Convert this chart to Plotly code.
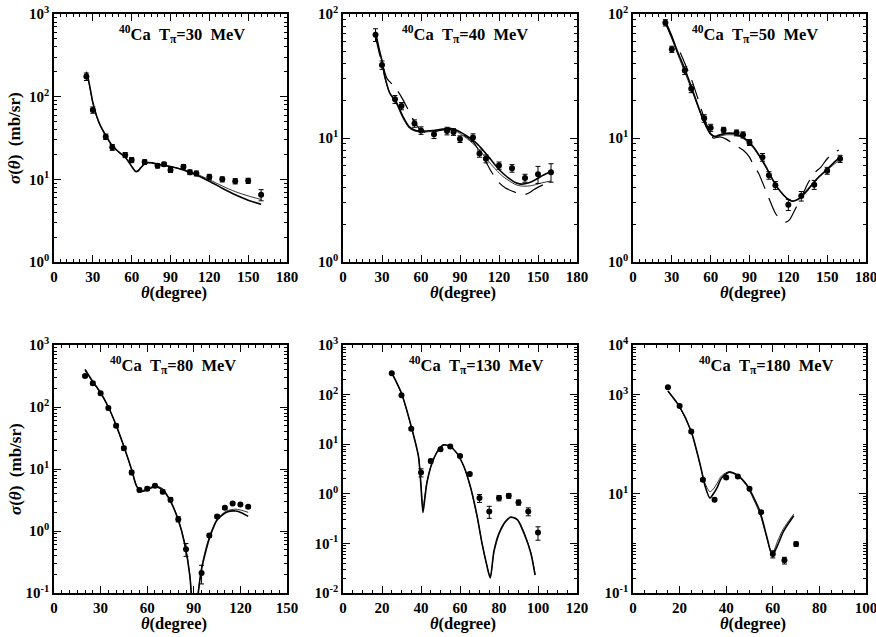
import math
import plotly.graph_objects as go

FONT = "Liberation Serif"

# ---- measured cross sections (deg, mb/sr) ----
ang_30 = [25, 30, 40, 45, 55, 60, 70, 80, 85, 90, 100, 105, 110, 120, 130, 140, 150, 160]
sig_30 = [175, 69, 32.8, 24.4, 19.7, 17.1, 16.2, 14.6, 15.2, 13.0, 14.2, 12.2, 11.8, 10.7, 10.0, 9.5, 9.6, 6.5]
err_30 = [18, 6, 2.5, 2.0, 1.4, 1.2, 1.0, 0.9, 0.9, 0.9, 0.9, 0.8, 0.8, 0.8, 0.7, 0.7, 0.7, 1.0]

ang_40 = [25, 30, 40, 45, 55, 60, 70, 80, 85, 90, 100, 105, 110, 120, 130, 140, 150, 160]
sig_40 = [68, 38.8, 20.5, 18.1, 13.1, 11.5, 10.7, 11.4, 11.2, 9.8, 10.1, 7.5, 6.8, 6.0, 5.7, 4.75, 5.1, 5.3]
err_40 = [8, 3, 1.5, 1.2, 0.9, 0.8, 0.8, 0.8, 0.7, 0.6, 0.7, 0.5, 0.5, 0.4, 0.4, 0.35, 0.8, 0.9]

ang_50 = [25, 30, 40, 45, 55, 60, 70, 80, 85, 90, 100, 105, 110, 120, 130, 140, 150, 160]
sig_50 = [85, 52, 35, 25, 14.4, 12.1, 11.6, 11.0, 10.6, 9.2, 7.0, 5.0, 4.15, 2.9, 3.4, 4.2, 5.45, 6.8]
err_50 = [5, 3, 2.5, 1.8, 1.0, 0.8, 0.6, 0.6, 0.6, 0.5, 0.5, 0.35, 0.3, 0.3, 0.3, 0.35, 0.35, 0.45]

ang_80 = [20, 25, 30, 35, 40, 45, 50, 55, 60, 65, 70, 75, 80, 85, 95, 100, 105, 110, 115, 120, 125]
sig_80 = [316, 241, 166, 96, 50, 21.7, 8.8, 4.6, 4.8, 5.35, 4.3, 3.2, 1.55, 0.51, 0.21, 0.85, 1.72, 2.37, 2.78, 2.68, 2.46]
err_80 = [15, 15, 10, 6, 3, 1.5, 0.7, 0.3, 0.3, 0.3, 0.3, 0.25, 0.15, 0.12, 0.07, 0.06, 0.1, 0.12, 0.12, 0.12, 0.12]

ang_130 = [25, 30, 35, 40, 45, 50, 55, 60, 65, 70, 75, 80, 85, 90, 95, 100]
sig_130 = [269, 97, 20.4, 2.69, 4.6, 7.9, 9.0, 5.8, 2.5, 0.82, 0.44, 0.82, 0.91, 0.67, 0.44, 0.166]
err_130 = [12, 5, 1.2, 0.5, 0.4, 0.5, 0.5, 0.35, 0.2, 0.15, 0.12, 0.1, 0.1, 0.08, 0.08, 0.05]

ang_180 = [15, 20, 25, 30, 35, 40, 45, 50, 55, 60, 65, 70]
sig_180 = [1400, 592, 180, 19.1, 7.6, 21.3, 22.3, 12.6, 4.27, 0.61, 0.455, 0.97]
err_180 = [60, 30, 10, 1.2, 0.6, 1.2, 1.2, 0.8, 0.3, 0.1, 0.07, 0.1]

# ---- model curves ----
th_30 = [25, 27, 30, 33, 36, 40, 45, 50, 55, 58, 61, 63, 65, 67, 70, 73, 76, 80, 90, 100, 110, 120, 130, 140, 150, 160]
fa_30 = [200, 150, 85, 58, 44, 34, 25.5, 21.5, 18.5, 16.0, 13.6, 12.4, 12.6, 13.8, 15.4, 16.0, 15.8, 15.3, 14.3, 13.0, 11.3, 9.5, 7.8, 6.5, 5.6, 5.0]
fb_30 = [195, 146, 84, 57, 43.5, 33.5, 25, 21.2, 18.3, 16.0, 13.8, 12.6, 12.8, 13.9, 15.3, 15.8, 15.6, 15.2, 14.3, 13.1, 11.6, 9.9, 8.3, 7.1, 6.3, 5.7]

th_40 = [25, 28, 30, 32, 36, 41, 46, 51, 56, 64, 72, 77, 82, 87, 92, 97, 103, 108, 113, 118, 123, 128, 133, 137, 143, 148, 153, 160]
fa_40 = [72, 51, 42, 32, 23, 19.5, 15, 12.3, 11.5, 11.4, 11.6, 11.8, 12.0, 11.6, 10.9, 10.1, 9.0, 7.9, 6.85, 5.9, 5.2, 4.7, 4.35, 4.25, 4.35, 4.6, 4.95, 5.4]
fb_40 = [68, 50, 41, 31, 23, 19, 14.5, 12, 11.3, 11.2, 11.4, 11.6, 11.7, 11.3, 10.5, 9.6, 8.4, 7.3, 6.3, 5.5, 4.9, 4.5, 4.2, 4.1, 4.1, 4.2, 4.35, 4.5]
tc_40 = [25, 28, 31, 34, 38, 42, 46, 50, 55, 60, 65, 70, 80, 90, 100, 105, 110, 113, 117, 120, 125, 131, 137, 140, 144, 147, 153, 159]
fc_40 = [65, 48, 37, 30, 27, 24, 20.5, 17, 13.5, 11.5, 11, 11.2, 11.8, 11, 9.3, 7.8, 6.4, 5.6, 4.8, 4.37, 3.95, 3.7, 3.5, 3.5, 3.65, 3.85, 4.15, 4.45]

th_50 = [25, 30, 35, 40, 45, 50, 55, 60, 63, 67, 72, 77.5, 83, 88, 93, 98, 103, 108, 113, 118.7, 122.5, 126, 129, 134, 139, 144, 150, 155, 160]
fa_50 = [88, 66, 48, 36, 26, 18.5, 13.5, 10.8, 10.3, 10.6, 10.9, 10.9, 10.4, 9.6, 8.5, 7.1, 5.8, 4.6, 3.8, 3.27, 3.1, 3.15, 3.27, 3.7, 4.3, 4.9, 5.6, 6.3, 7.0]
fb_50 = [85, 63, 46, 34, 25, 18, 13.2, 10.6, 10.2, 10.4, 10.6, 10.6, 10.2, 9.4, 8.3, 7.0, 5.7, 4.6, 3.8, 3.3, 3.1, 3.15, 3.3, 3.8, 4.3, 4.9, 5.5, 6.1, 6.7]
tc_50 = [26, 28.5, 32, 36, 40, 45, 50, 55, 60, 62, 67, 72, 78.6, 85, 90, 93, 97, 102, 105, 110, 114, 118, 121, 125, 130, 135, 140, 145, 150, 155, 159]
fc_50 = [80, 70, 58, 50, 40, 30, 21, 14.5, 10.8, 10.0, 10.2, 9.8, 8.8, 8.0, 7.0, 6.05, 5.2, 3.9, 3.27, 2.47, 2.2, 2.1, 2.2, 2.63, 3.3, 4.3, 5.2, 5.8, 6.8, 7.6, 8.0]

th_80 = [20, 25, 30, 35, 40, 45, 50, 53, 56, 60, 65, 70, 75, 80, 84, 87.5, 89, 90.5, 92, 95, 98, 100.5, 105, 111, 117, 121, 125]
fa_80 = [405, 257, 170, 100, 51, 23, 9.7, 5.4, 4.35, 4.6, 5.2, 4.6, 3.0, 1.5, 0.64, 0.185, 0.05, 0.01, 0.06, 0.24, 0.5, 0.82, 1.5, 2.0, 2.1, 1.95, 1.72]
fb_80 = [385, 250, 168, 99, 50, 23, 9.6, 5.5, 4.5, 4.8, 5.4, 4.8, 3.1, 1.55, 0.66, 0.19, 0.05, 0.01, 0.065, 0.26, 0.55, 0.88, 1.55, 2.1, 2.25, 2.15, 2.0]

th_130 = [25, 30, 35, 38.7, 40, 41, 42, 43, 45.6, 49, 51.6, 55, 58.4, 62, 65.3, 68.8, 71.3, 73.5, 75.5, 77.4, 80, 83.4, 86, 89.4, 92.8, 96.3, 98.5]
fa_130 = [277, 106, 22.7, 5.65, 1.4, 0.42, 0.83, 1.64, 4.1, 7.7, 9.7, 9.0, 6.6, 3.55, 1.4, 0.35, 0.1, 0.04, 0.02, 0.07, 0.16, 0.28, 0.34, 0.30, 0.16, 0.064, 0.023]
fb_130 = [270, 104, 22.3, 5.7, 1.5, 0.5, 0.9, 1.7, 4.2, 7.8, 9.6, 8.9, 6.5, 3.5, 1.38, 0.34, 0.1, 0.04, 0.021, 0.065, 0.15, 0.27, 0.33, 0.31, 0.17, 0.066, 0.024]

th_180 = [15, 20, 25, 28.7, 31, 33, 34.5, 36, 38, 41.2, 44.5, 48.8, 51.6, 54.5, 57.4, 59.5, 60.5, 62, 64.6, 69]
fa_180 = [1186, 573, 180, 41, 14, 8.2, 10, 13, 20.7, 27.3, 24.2, 15.2, 8.8, 4.4, 1.38, 0.62, 0.65, 0.9, 1.75, 3.6]
fb_180 = [1150, 560, 175, 40, 16, 11, 12.5, 16, 23, 28, 24.5, 14.5, 8.0, 3.9, 1.3, 0.65, 0.72, 1.1, 2.0, 3.9]

energies = ["30", "40", "50", "80", "130", "180"]

panels = [
    dict(ang=ang_30, sig=sig_30, err=err_30,
         curves=[(th_30, fa_30, "a"), (th_30, fb_30, "b")],
         xr=[0, 180], xd=30, yr=[0, 3], yt=[1, 10, 100, 1000]),
    dict(ang=ang_40, sig=sig_40, err=err_40,
         curves=[(th_40, fa_40, "a"), (th_40, fb_40, "b"), (tc_40, fc_40, "c")],
         xr=[0, 180], xd=30, yr=[0, 2], yt=[1, 10, 100]),
    dict(ang=ang_50, sig=sig_50, err=err_50,
         curves=[(th_50, fa_50, "a"), (th_50, fb_50, "b"), (tc_50, fc_50, "c")],
         xr=[0, 180], xd=30, yr=[0, 2], yt=[1, 10, 100]),
    dict(ang=ang_80, sig=sig_80, err=err_80,
         curves=[(th_80, fa_80, "a"), (th_80, fb_80, "b")],
         xr=[0, 150], xd=30, yr=[-1, 3], yt=[0.1, 1, 10, 100, 1000]),
    dict(ang=ang_130, sig=sig_130, err=err_130,
         curves=[(th_130, fa_130, "a"), (th_130, fb_130, "b")],
         xr=[0, 120], xd=20, yr=[-2, 3], yt=[0.01, 0.1, 1, 10, 100, 1000]),
    dict(ang=ang_180, sig=sig_180, err=err_180,
         curves=[(th_180, fa_180, "a"), (th_180, fb_180, "b")],
         xr=[0, 100], xd=20, yr=[-1, 4], yt=[0.1, 10, 1000, 10000]),
]

LINE = {"a": dict(color="black", width=1.6),
        "b": dict(color="black", width=0.8),
        "c": dict(color="black", width=1.2, dash="20px,10px")}

# the page margin is removed below, so the figure fills the whole window
W, H = 876, 637
COLS_PX = [(54, 287), (343, 577), (633, 866)]
ROWS_PX = [(14, 262), (345, 593)]
TITLE_POS = [0.55, 0.52, 0.524, 0.51, 0.57, 0.575]


def px_x(px):
    return px / W


def px_y(py):
    return 1 - py / H


def sup_label(v):
    e = int(round(math.log10(v)))
    return f"10<sup>{e}</sup>"


tick_font = dict(family=FONT, size=15, color="black", weight="bold")

fig = go.Figure()
annotations = []
layout = dict(width=W, height=H, autosize=False,
              margin=dict(l=0, r=0, t=0, b=0, pad=0, autoexpand=False),
              plot_bgcolor="white", paper_bgcolor="white", showlegend=False)

for i, p in enumerate(panels):
    n = "" if i == 0 else str(i + 1)
    xa, ya = "x" + n, "y" + n
    row, col = divmod(i, 3)
    cl, cr = COLS_PX[col]
    rt, rb = ROWS_PX[row]
    for th, f, kind in p["curves"]:
        fig.add_trace(go.Scatter(x=th, y=f, mode="lines",
                                 line=dict(**LINE[kind], shape="spline", smoothing=0.7),
                                 xaxis=xa, yaxis=ya, hoverinfo="skip"))
    fig.add_trace(go.Scatter(
        x=p["ang"], y=p["sig"], mode="markers",
        marker=dict(color="black", size=6),
        error_y=dict(type="data", array=p["err"], color="black", thickness=1, width=2.5),
        xaxis=xa, yaxis=ya))

    layout["xaxis" + n] = dict(
        domain=[px_x(cl), px_x(cr)], anchor=ya, range=p["xr"], dtick=p["xd"], tick0=0,
        automargin=False, ticklabeloverflow="allow", showgrid=False, zeroline=False,
        showline=True, linecolor="black", linewidth=1.5,
        mirror="ticks", ticks="inside", ticklen=7, tickwidth=1, tickcolor="black",
        minor=dict(ticks="inside", dtick=5, tick0=0, ticklen=3.5, tickcolor="black", showgrid=False),
        tickfont=tick_font)
    layout["yaxis" + n] = dict(
        domain=[px_y(rb), px_y(rt)], anchor=xa, type="log", range=p["yr"],
        automargin=False, ticklabeloverflow="allow",
        tickvals=p["yt"], ticktext=[sup_label(v) for v in p["yt"]],
        showgrid=False, zeroline=False, showline=True, linecolor="black", linewidth=1.5,
        mirror="ticks", ticks="inside", ticklen=7, tickwidth=1, tickcolor="black",
        minor=dict(ticks="inside", dtick="D1", ticklen=3.5, tickcolor="black", showgrid=False),
        tickfont=tick_font)

    annotations.append(dict(
        xref="paper", yref="paper", x=px_x(cl + TITLE_POS[i] * (cr - cl)), y=px_y(rt + 20),
        xanchor="center", yanchor="middle",
        text=f"<sup>40</sup>Ca\u00a0\u00a0T<sub>\u03c0</sub>={energies[i]}\u00a0\u00a0MeV",
        showarrow=False, font=dict(family=FONT, size=16.5, color="black", weight="bold")))
    annotations.append(dict(
        xref="paper", yref="paper", x=px_x((cl + cr) / 2 + 3), y=px_y(rb + 30),
        xanchor="center", yanchor="middle",
        text="<i>\u03b8</i>(degree)", showarrow=False,
        font=dict(family=FONT, size=16.5, color="black", weight="bold")))
    if col == 0:
        annotations.append(dict(
            xref="paper", yref="paper", x=px_x(15), y=px_y((rt + rb) / 2),
            textangle=-90, xanchor="center", yanchor="middle",
            text="<i>\u03c3</i>(<i>\u03b8</i>)\u00a0\u00a0(mb/sr)", showarrow=False,
            font=dict(family=FONT, size=17, color="black", weight="bold")))

layout["annotations"] = annotations
fig.update_layout(**layout)
fig.write_html("out.html", config={"displayModeBar": False},
               post_script="document.body.style.margin = '0';")
